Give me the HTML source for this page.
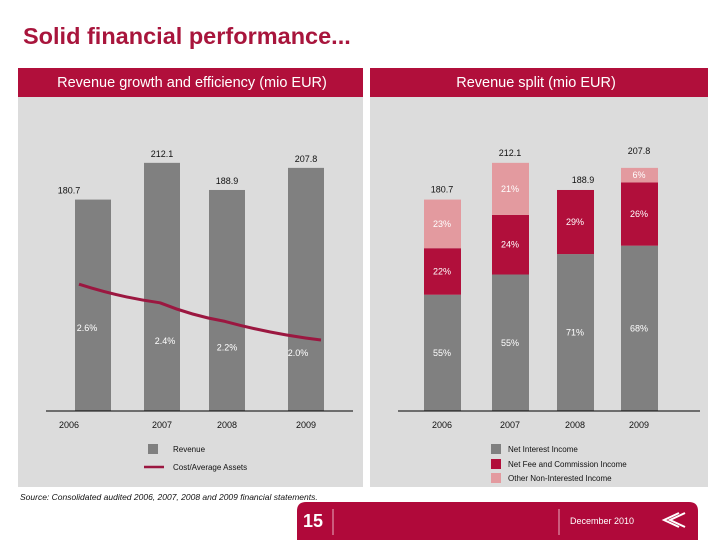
<!DOCTYPE html>
<html><head><meta charset="utf-8"><style>
html,body{margin:0;padding:0;background:#fff;}
body{width:720px;height:540px;overflow:hidden;font-family:"Liberation Sans",sans-serif;}
</style></head><body>
<svg width="720" height="540" viewBox="0 0 720 540" xmlns="http://www.w3.org/2000/svg" font-family="Liberation Sans, sans-serif">
<text x="23" y="44" font-size="23.5" font-weight="bold" fill="#a8153c">Solid financial performance...</text>
<rect x="18" y="97" width="345" height="390" fill="#dcdcdc"/>
<rect x="370" y="97" width="338" height="390" fill="#dcdcdc"/>
<rect x="18" y="68" width="345" height="29" fill="#b10f3b"/>
<rect x="370" y="68" width="338" height="29" fill="#b10f3b"/>
<text x="192" y="87" font-size="14.5" fill="#fff" text-anchor="middle">Revenue growth and efficiency (mio EUR)</text>
<text x="536" y="87" font-size="14.5" fill="#fff" text-anchor="middle">Revenue split (mio EUR)</text>
<g id="left"></g>
<g id="right"></g>
<line x1="46" y1="411" x2="353" y2="411" stroke="#000" stroke-width="1"/>
<line x1="398" y1="411" x2="700" y2="411" stroke="#000" stroke-width="1"/>
<g font-size="8" fill="#111">
<rect x="148" y="444" width="10" height="10" fill="#808080"/>
<text x="173" y="452">Revenue</text>
<line x1="144" y1="467" x2="164" y2="467" stroke="#9b1740" stroke-width="2.5"/>
<text x="173" y="470">Cost/Average Assets</text>
</g>
<g font-size="8" fill="#111">
<rect x="491" y="444" width="10" height="10" fill="#808080"/>
<text x="508" y="452">Net Interest Income</text>
<rect x="491" y="459" width="10" height="10" fill="#b10f3b"/>
<text x="508" y="467">Net Fee and Commission Income</text>
<rect x="491" y="473" width="10" height="10" fill="#e39a9f"/>
<text x="508" y="481">Other Non-Interested Income</text>
</g>
<text x="20" y="500" font-size="8.5" font-style="italic" fill="#111">Source: Consolidated audited 2006, 2007, 2008 and 2009 financial statements.</text>
<path d="M297 540 V511 Q297 502 306 502 H689 Q698 502 698 511 V540 Z" fill="#b0093a"/>
<text x="303" y="527" font-size="18" font-weight="bold" fill="#fff">15</text>
<line x1="333" y1="509" x2="333" y2="535" stroke="#e8b0c0" stroke-width="1"/>
<line x1="559" y1="509" x2="559" y2="535" stroke="#e8b0c0" stroke-width="1"/>
<text x="570" y="524" font-size="9" fill="#fff">December 2010</text>
<g fill="none" stroke="#fff" stroke-width="2">
<path d="M679 513 L664 520 L679 527"/><path d="M685 513 L670 520 L685 527"/>
</g>
</svg>
<script>
const years = ["2006","2007","2008","2009"];
const revenue = [180.7, 212.1, 188.9, 207.8];
const revenueLabels = ["180.7","212.1","188.9","207.8"];
const costRatio = [2.6, 2.4, 2.2, 2.0];
const costLabels = ["2.6%","2.4%","2.2%","2.0%"];
const niiPct = [55, 55, 71, 68];
const feePct = [22, 24, 29, 26];
const otherPct = [23, 21, 0, 6];

const NS="http://www.w3.org/2000/svg";
function mk(parent,tag,attrs){const e=document.createElementNS(NS,tag);for(const k in attrs)e.setAttribute(k,attrs[k]);parent.appendChild(e);return e;}
const base=411, scale=1.17;
function yRev(v){return base - v*scale;}
function yCost(v){return 340 - (v-2.0)*93;}
const leftX=[75,144,209,288], rightX=[424,492,557,621], bw=36;
const labelDy=[47,41,29,16], labelDx=[8,5,2,-23];

const L=document.getElementById('left');
const pts=[];
years.forEach((y,i)=>{
  const top=yRev(revenue[i]);
  const r=mk(L,'rect',{x:leftX[i],y:top,width:bw,height:base-top,fill:'#808080'});
  
  
  const t=mk(L,'text',{x:leftX[i]+bw/2-(i===0?24:0),y:top-6,'font-size':9,'text-anchor':'middle',fill:'#111'});t.textContent=revenueLabels[i];
  
  
  const yl=mk(L,'text',{x:leftX[i]+bw/2-(i===0?24:0),y:428,'font-size':9,'text-anchor':'middle',fill:'#111'});yl.textContent=y;
  
  
  pts.push([leftX[i]+(i===0?4:i===3?33:16), yCost(costRatio[i])]);
});
let d='M'+pts[0].join(',');
for(let i=1;i<pts.length;i++){const p=pts[i-1],q=pts[i];const mx=(p[0]+q[0])/2;d+=' Q'+mx+','+(p[1]+(q[1]-p[1])*0.7)+' '+q.join(',');}
const ln=mk(L,'path',{d:d,fill:'none',stroke:'#9b1740','stroke-width':3,'stroke-linejoin':'round'});


pts.forEach((p,i)=>{
  const t=mk(L,'text',{x:p[0]+labelDx[i],y:p[1]+labelDy[i],'font-size':9,'text-anchor':'middle',fill:'#fff'});t.textContent=costLabels[i];
  
  
});

const R=document.getElementById('right');
const segs=[[niiPct,'#808080','nii'],[feePct,'#b10f3b','fee'],[otherPct,'#e39a9f','other']];
years.forEach((y,i)=>{
  const total=revenue[i]*scale;
  let cur=base;
  segs.forEach(([arr,col,nm])=>{
    const h=total*arr[i]/100;
    if(h<=0)return;
    const r=mk(R,'rect',{x:rightX[i],y:cur-h,width:bw+1,height:h,fill:col});
    
    
    const t=mk(R,'text',{x:rightX[i]+bw/2,y:cur-h/2+3,'font-size':9,'text-anchor':'middle',fill:'#fff'});t.textContent=arr[i]+'%';
    
    
    cur-=h;
  });
  const t=mk(R,'text',{x:rightX[i]+bw/2+(i===2?8:0),y:yRev(revenue[i])-(i===3?14:7),'font-size':9,'text-anchor':'middle',fill:'#111'});t.textContent=revenueLabels[i];
  
  
  const yl=mk(R,'text',{x:rightX[i]+bw/2,y:428,'font-size':9,'text-anchor':'middle',fill:'#111'});yl.textContent=y;
  
  
});
</script>
</body></html>
